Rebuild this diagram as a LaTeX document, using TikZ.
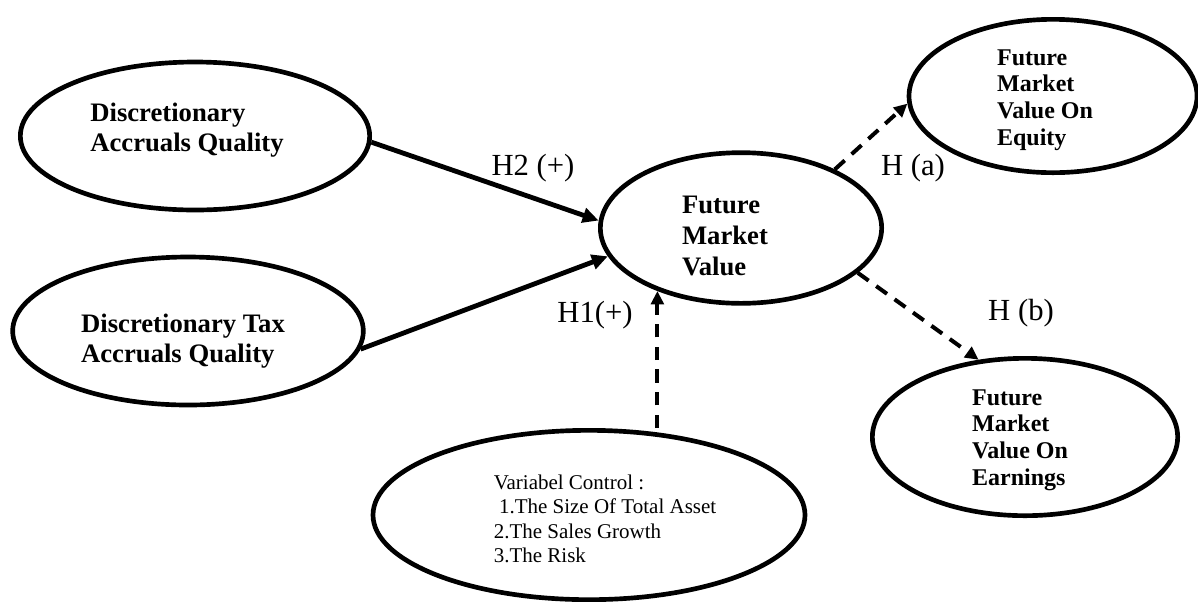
\documentclass[tikz,border=0pt]{standalone}
\usepackage{fontspec}
\setmainfont{Liberation Serif}
\usetikzlibrary{shapes}
\usetikzlibrary{arrows.meta}
\tikzset{
    ellnode/.style = {ellipse, line width=3.5pt, draw=black, inner sep=0pt},
    bigtext/.style = {align=left, inner sep=0pt, font=\bfseries\fontsize{20}{23}\selectfont, text=black},
    smalltext/.style = {align=left, inner sep=0pt, font=\bfseries\fontsize{18}{20}\selectfont, text=black},
    ctrltext/.style = {align=left, inner sep=0pt, font=\fontsize{15.75}{18.4}\selectfont, text=black},
    hlabel/.style = {inner sep=0pt, font=\fontsize{23}{26}\selectfont},
    edgen/.style = {-{Triangle[length=12pt,width=11pt]}, line width=3.6pt, black},
    edged/.style = {-{Triangle[length=10pt,width=9.5pt]}, line width=3pt, black, dash pattern=on 10pt off 7pt},
}

\begin{document}
\begin{tikzpicture}[x=0.75pt,y=-0.75pt]
\useasboundingbox (0,0) rectangle (1198,601);

\node[ellnode, minimum width=262pt, minimum height=111pt,
      label={[bigtext, xshift=-6pt, yshift=4.5pt]center:Discretionary\\Accruals Quality}] at ( 195, 136) (daq) {};
\node[ellnode, minimum width=263pt, minimum height=111pt,
      label={[bigtext, xshift=-3.75pt, yshift=-7.5pt]center:Discretionary Tax\\Accruals Quality}] at ( 188, 331) (dtaq) {};
\node[ellnode, minimum width=211pt, minimum height=113pt,
      label={[bigtext, xshift=-12pt, yshift=-6pt]center:Future\\Market\\Value}] at ( 741, 228) (fmv) {};
\node[ellnode, minimum width=216pt, minimum height=115pt,
      label={[smalltext, xshift=-6pt, yshift=-3pt]center:Future\\Market\\Value On\\Equity}] at (1053,  96) (equity) {};
\node[ellnode, minimum width=229pt, minimum height=118pt,
      label={[smalltext, xshift=-3.75pt, yshift=-2.25pt]center:Future\\Market\\Value On\\Earnings}] at (1025, 437) (earn) {};
\node[ellnode, minimum width=324pt, minimum height=127pt,
      label={[ctrltext, xshift=12pt, yshift=-3pt]center:Variabel Control :\\\hspace*{0.25em}1.The Size Of Total Asset\\2.The Sales Growth\\3.The Risk}] at ( 589, 515) (ctrl) {};

\draw[edgen] (daq.-2) -- (fmv.177);
\draw[edgen] (dtaq.-6) -- (fmv.192);
\draw[edged] (ctrl.north -| fmv.217) -- (fmv.217);
\draw[edged] (fmv.32) -- (equity.183);
\draw[edged] (fmv.-21) -- (earn.121);

\node[hlabel] at ( 533, 168) (h2) {H2 (+)};
\node[hlabel] at ( 595, 315) (h1) {H1(+)};
\node[hlabel] at ( 913, 168) (ha) {H (a)};
\node[hlabel] at (1021, 313) (hb) {H (b)};

\end{tikzpicture}
\end{document}
